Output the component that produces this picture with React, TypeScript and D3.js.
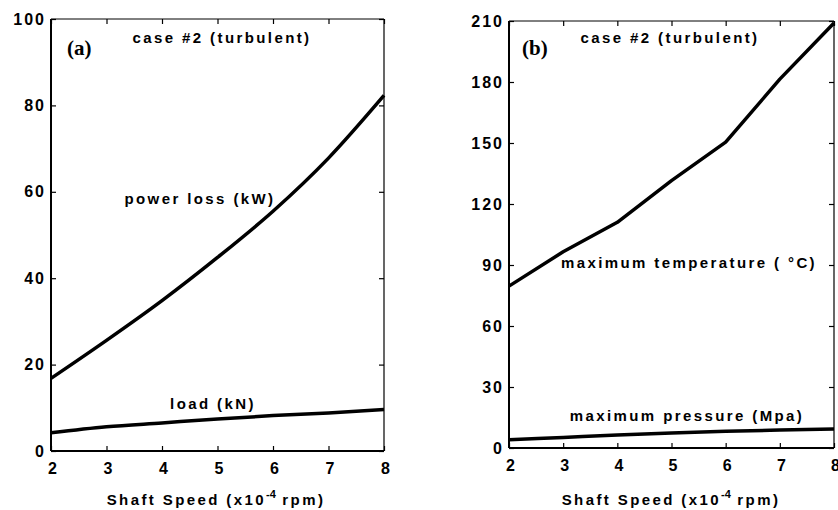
import React, { useEffect, useRef } from 'react';
import * as d3 from 'd3';

// shaft speed (x10^-4 rpm)
const speed = [2, 3, 4, 5, 6, 7, 8];

// panel (a)
const powerLoss = [16.8, 25.6, 34.8, 44.8, 55.5, 67.8, 82.3];
const load = [4.2, 5.6, 6.5, 7.4, 8.2, 8.8, 9.6];
const ticksA = [0, 20, 40, 60, 80, 100];

// panel (b)
const maxTemp = [79.6, 96.5, 111, 131.5, 150.4, 181.4, 209];
const maxPressure = [4.0, 5.2, 6.4, 7.4, 8.2, 8.8, 9.4];
const ticksB = [0, 30, 60, 90, 120, 150, 180, 210];

const FONT = '"Liberation Sans", Arial, sans-serif';

interface Series {
  values: number[];
  label: string;
  lx: number;
  ly: number;
  curve: d3.CurveFactory;
}

interface PanelSpec {
  left: number;
  right: number;
  top: number;
  bottom: number;
  yTicks: number[];
  tag: string;
  tagX: number;
  titleX: number;
  axisTitleX: number;
  series: Series[];
}

const panels: PanelSpec[] = [
  {
    left: 51, right: 384, top: 19, bottom: 451,
    yTicks: ticksA, tag: '(a)', tagX: 67, titleX: 221, axisTitleX: 215,
    series: [
      { values: powerLoss, label: 'power loss (kW)', lx: 199, ly: 204, curve: d3.curveMonotoneX },
      { values: load, label: 'load (kN)', lx: 212, ly: 409, curve: d3.curveMonotoneX },
    ],
  },
  {
    left: 509, right: 834, top: 21, bottom: 448,
    yTicks: ticksB, tag: '(b)', tagX: 522, titleX: 669, axisTitleX: 670,
    series: [
      { values: maxTemp, label: 'maximum temperature ( °C)', lx: 688, ly: 268, curve: d3.curveLinear },
      { values: maxPressure, label: 'maximum pressure (Mpa)', lx: 686, ly: 421, curve: d3.curveMonotoneX },
    ],
  },
];

export default function App() {
  const ref = useRef<SVGSVGElement>(null);

  useEffect(() => {
    if (!ref.current) return;
    const svg = d3.select(ref.current);
    svg.selectAll('*').remove();

    const label = (sel: d3.Selection<SVGTextElement, unknown, null, undefined>, spacing: number) =>
      sel.style('font-family', FONT)
        .style('font-size', '15px')
        .style('font-weight', 'bold')
        .style('letter-spacing', `${spacing}px`)
        .attr('fill', '#000');

    panels.forEach((p) => {
      const x = d3.scaleLinear().domain([2, 8]).range([p.left, p.right]);
      const yMax = p.yTicks[p.yTicks.length - 1];
      const y = d3.scaleLinear().domain([0, yMax]).range([p.bottom, p.top]);
      const g = svg.append('g');

      // inward ticks on all four sides
      const bottomAx = g.append('g')
        .attr('transform', `translate(0,${p.bottom})`)
        .call(d3.axisBottom(x).tickValues(speed).tickSize(-5).tickPadding(12).tickFormat(d3.format('d')));
      g.append('g')
        .attr('transform', `translate(0,${p.top})`)
        .call(d3.axisTop(x).tickValues(speed).tickSize(-5).tickFormat(() => ''));
      const leftAx = g.append('g')
        .attr('transform', `translate(${p.left},0)`)
        .call(d3.axisLeft(y).tickValues(p.yTicks).tickSize(-5).tickPadding(5).tickFormat(d3.format('d')));
      g.append('g')
        .attr('transform', `translate(${p.right},0)`)
        .call(d3.axisRight(y).tickValues(p.yTicks).tickSize(-5).tickFormat(() => ''));

      g.selectAll('.domain').remove();
      g.selectAll('.tick line').attr('stroke', '#000').attr('stroke-width', 1.2);
      bottomAx.selectAll<SVGTextElement, unknown>('text')
        .style('font-family', FONT).style('font-size', '16px').style('font-weight', 'bold')
        .attr('dx', 1).attr('fill', '#000');
      leftAx.selectAll<SVGTextElement, unknown>('text')
        .style('font-family', FONT).style('font-size', '16px').style('font-weight', 'bold')
        .style('letter-spacing', '2px').attr('fill', '#000');

      // frame
      g.append('line').attr('x1', p.left).attr('x2', p.right).attr('y1', p.top).attr('y2', p.top)
        .attr('stroke', '#000').attr('stroke-width', 1);
      g.append('line').attr('x1', p.right).attr('x2', p.right).attr('y1', p.top).attr('y2', p.bottom)
        .attr('stroke', '#000').attr('stroke-width', 1.2);
      g.append('line').attr('x1', p.left).attr('x2', p.left).attr('y1', p.top).attr('y2', p.bottom)
        .attr('stroke', '#000').attr('stroke-width', 2);
      g.append('line').attr('x1', p.left).attr('x2', p.right).attr('y1', p.bottom).attr('y2', p.bottom)
        .attr('stroke', '#000').attr('stroke-width', 2);

      // curves
      p.series.forEach((s) => {
        const line = d3.line<number>()
          .x((_, i) => x(speed[i]))
          .y((d) => y(d))
          .curve(s.curve);
        g.append('path')
          .attr('d', line(s.values))
          .attr('fill', 'none')
          .attr('stroke', '#000')
          .attr('stroke-width', 3.5)
          .attr('stroke-linejoin', 'round');

        label(g.append('text')
          .attr('x', s.lx + 1)
          .attr('y', s.ly)
          .attr('text-anchor', 'middle'), 2.4)
          .text(s.label);
      });

      // panel tag and case title
      g.append('text')
        .attr('x', p.tagX)
        .attr('y', 55)
        .style('font-family', '"Liberation Serif", "Times New Roman", serif')
        .style('font-size', '21px')
        .style('font-weight', 'bold')
        .text(p.tag);
      label(g.append('text')
        .attr('x', p.titleX + 1)
        .attr('y', 43)
        .attr('text-anchor', 'middle'), 2.4)
        .text('case #2 (turbulent)');

      // x axis title with superscript
      const t = label(g.append('text')
        .attr('x', p.axisTitleX + 1)
        .attr('y', 505)
        .attr('text-anchor', 'middle'), 2.4);
      t.append('tspan').text('Shaft Speed (x10');
      t.append('tspan').attr('dy', -7).style('font-size', '11px').style('letter-spacing', '0px').text('-4');
      t.append('tspan').attr('dy', 7).text(' rpm)');
    });
  }, []);

  return (
    <svg
      ref={ref}
      width={838}
      height={510}
      style={{ position: 'absolute', left: 0, top: 0, background: '#fff' }}
    />
  );
}
